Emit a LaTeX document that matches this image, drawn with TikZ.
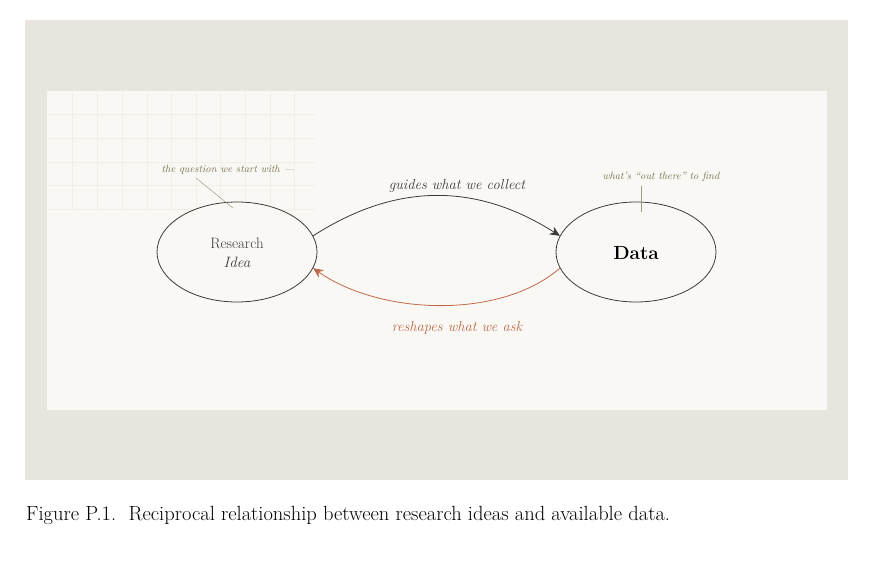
\documentclass[tikz,border=0pt]{standalone}
\usetikzlibrary{arrows.meta,shapes.geometric}
\definecolor{outerbg}{HTML}{E8E5DE}
\definecolor{innerbg}{HTML}{F9F8F4}
\definecolor{gridc}{HTML}{F0EEE8}
\definecolor{ink}{HTML}{3A3A36}
\definecolor{olive}{HTML}{7A7050}
\definecolor{rust}{HTML}{C0694A}
\begin{document}
\begin{tikzpicture}[x=1pt,y=-1pt,
  bub/.style={draw=ink,line width=0.8pt,ellipse,minimum width=160pt,minimum height=100pt,inner sep=0pt},
  note/.style={text=olive,font=\fontsize{10.5}{12}\selectfont\itshape},
  lead/.style={draw=olive!70,line width=0.5pt},
  lab/.style={font=\fontsize{14.5}{16}\selectfont\itshape}]
\useasboundingbox (0,0) rectangle (891,583);
\fill[white] (0,0) rectangle (891,583);
\fill[outerbg] (25,20) rectangle (848,480);
\fill[innerbg] (47,91) rectangle (827,410);
\foreach \x in {72,97,122,147,171,196,220,245,270,294} \draw[gridc,line width=0.6pt] (\x,91) -- (\x,209);
\foreach \y in {114,138,162,185,209} \draw[gridc,line width=0.6pt] (47,\y) -- (315,\y);
\node[bub,fill=innerbg] (r) at (237,252) {};
\node[bub] (d) at (636,252) {};
\node[font=\fontsize{15}{18}\selectfont,align=center,text=ink] (rt) at (237,253) {Research\\[1pt]\itshape Idea};
\node[font=\fontsize{19}{21}\selectfont\bfseries,text=black] (dt) at (636,253) {Data};
\draw[ink,line width=0.8pt,-{Stealth[length=10pt,width=9pt]}] (r.12) .. controls (400,180) and (480,185) .. (d.168);
\draw[rust,line width=0.8pt,-{Stealth[length=10pt,width=9pt]}] (d.-168) .. controls (500,320) and (380,315) .. (r.-12);
\node[lab,text=ink] (g) at (457,186) {guides what we collect};
\node[lab,text=rust] (s) at (457,328) {reshapes what we ask};
\node[note] (n1) at (228,170) {the question we start with ---};
\coordinate (p1) at (233,208);
\draw[lead] (196,178) -- (p1);
\node[note] (n2) at (661,177) {what's ``out there'' to find};
\coordinate (p2) at (641,212);
\draw[lead] (641,186) -- (p2);
\node[anchor=north west,text width=822pt,align=justify,inner sep=0pt,font=\fontsize{20.5}{28}\selectfont] (cap) at (26,506) {Figure P.1.\ \ Reciprocal relationship between research ideas and available data.};
\end{tikzpicture}
\end{document}
